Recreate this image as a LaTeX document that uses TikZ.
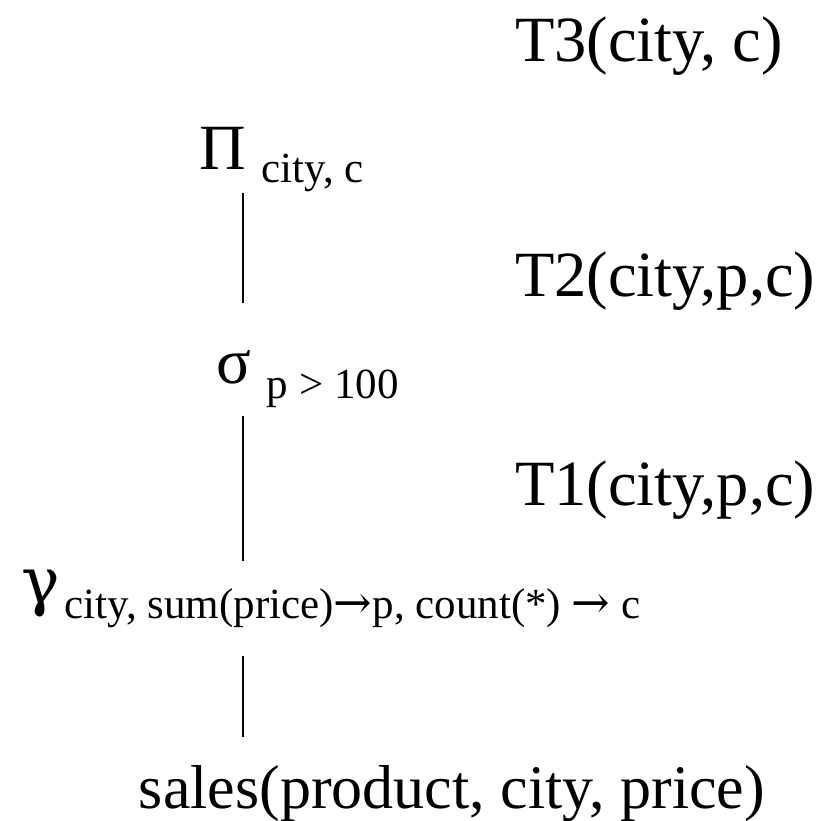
\documentclass[tikz,border=0pt]{standalone}
\usepackage{fontspec}
\usetikzlibrary{calc}
\setmainfont{Liberation Serif}
\newfontfamily\symfont{DejaVu Serif}
\newcommand{\lowsub}[2]{\raisebox{-#1pt}{\fontsize{43}{46}\selectfont #2}}
\newcommand{\arr}{{\symfont\fontsize{46}{46}\selectfont →}}
\tikzset{
  big/.style={inner sep=0pt, outer sep=0pt, font=\fontsize{64.5}{70}\selectfont},
  op/.style={big, anchor=base west},
  rel/.style={big, anchor=base west},
  edge/.style={line width=2pt, line cap=butt}
}
\begin{document}
\begin{tikzpicture}[x=1pt,y=-1pt]
\useasboundingbox (0,0) rectangle (836,821);
\coordinate (spine) at (242.5,0);
% tables
\node[rel] (t3) at (515,62) {T3(city, c)};
\node[rel] (t2) at (515,297) {T2(city,p,c)};
\node[rel] (t1) at (515,505) {T1(city,p,c)};
% operators
\node[op] (pi) at (199,170) {Π\ \lowsub{13}{city, c}};
\node[op] (sigma) at (216,383) {σ\ \lowsub{15}{p > 100}};
\node[op] (gamma) at (21,603) {{\symfont γ}\hspace{5pt}\lowsub{15}{city, sum(price)\arr p, count(*) \arr\ c}};
\node[big, anchor=base east, font=\fontsize{62}{70}\selectfont] (sales) at (765,808) {sales(product, city, price)};
% connectors
\draw[edge] ($(pi.base -| spine)+(0,23)$) -- ($(sigma.base -| spine)+(0,-80)$);
\draw[edge] ($(sigma.base -| spine)+(0,33)$) -- ($(gamma.base -| spine)+(0,-42)$);
\draw[edge] ($(gamma.base -| spine)+(0,53)$) -- ($(sales.base -| spine)+(0,-71)$);
\end{tikzpicture}
\end{document}
